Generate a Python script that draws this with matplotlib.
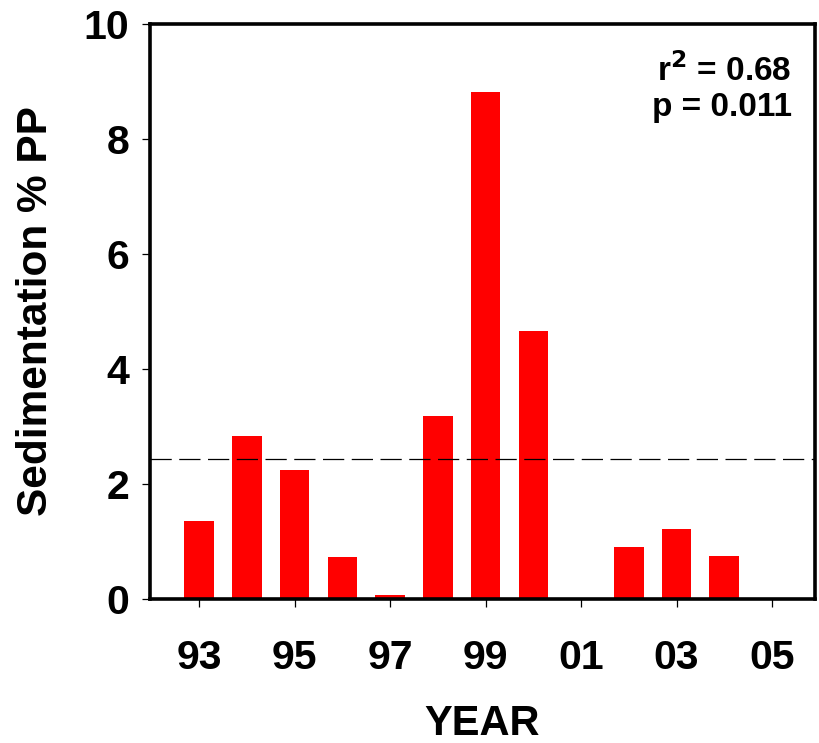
import matplotlib
matplotlib.use("Agg")
import matplotlib.pyplot as plt

# Sedimentation as percentage of primary production, by year
years = [93, 94, 95, 96, 97, 98, 99, 100, 102, 103, 104]
sedimentation = [1.36, 2.83, 2.24, 0.73, 0.065, 3.18, 8.82, 4.66, 0.91, 1.22, 0.75]
mean_level = 2.43

tick_years = [93, 95, 97, 99, 101, 103, 105]
tick_labels = ["93", "95", "97", "99", "01", "03", "05"]
y_ticks = [0, 2, 4, 6, 8, 10]

plt.rcParams["font.family"] = ["Liberation Sans", "DejaVu Sans"]
plt.rcParams["font.weight"] = "bold"

fig = plt.figure(figsize=(8.19, 7.43), dpi=100)
ax = fig.add_axes([150 / 819, 1 - 599 / 743, (815 - 150) / 819, (599 - 24) / 743])

ax.bar(years, sedimentation, width=0.62, color="#ff0000", edgecolor="none", zorder=2)
ax.axhline(mean_level, color="black", lw=0.9, linestyle=(0, (17, 6)), zorder=3)

ax.set_xlim(91.97, 105.9)
ax.set_ylim(0, 10)
ax.set_xticks(tick_years)
ax.set_xticklabels(tick_labels)
ax.set_yticks(y_ticks)

for s in ax.spines.values():
    s.set_linewidth(2.6)
ax.tick_params(axis="both", direction="out", length=6, width=0.9, labelsize=29.5)
ax.tick_params(axis="x", pad=23)
ax.tick_params(axis="y", pad=9)
for lab in ax.get_xticklabels() + ax.get_yticklabels():
    lab.set_fontweight("bold")

ax.set_xlabel("YEAR", fontsize=30, fontweight="bold", labelpad=19)
ax.set_ylabel("Sedimentation % PP", fontsize=30.5, fontweight="bold", labelpad=20)

ax.text(0.965, 0.95, "r$^\\mathbf{2}$ = 0.68", transform=ax.transAxes, ha="right", va="top",
        fontsize=24, fontweight="bold")
ax.text(0.965, 0.882, "p = 0.011", transform=ax.transAxes, ha="right", va="top",
        fontsize=24, fontweight="bold")

fig.savefig("out.png", dpi=100)
